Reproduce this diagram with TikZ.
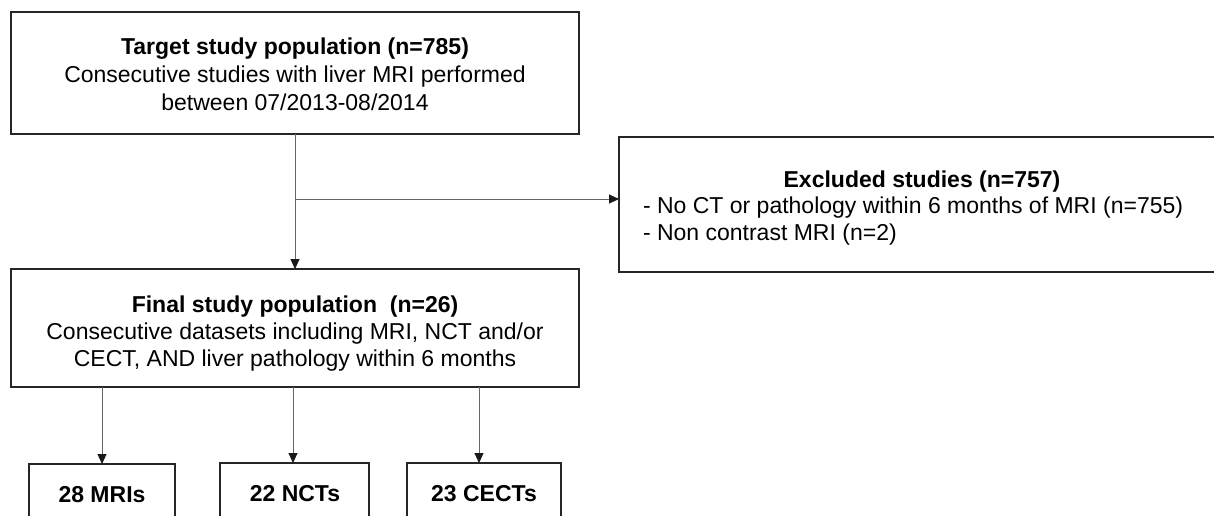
\documentclass[tikz,border=0pt]{standalone}
\usepackage{fontspec}
\setmainfont{Liberation Sans}
\usetikzlibrary{arrows.meta}
\begin{document}
\begin{tikzpicture}[x=1pt,y=-1pt,
  boxnode/.style={draw=black!85, line width=1.2pt, inner sep=0pt, outer sep=0pt, fill=none},
  txt/.style={inner sep=0pt, outer sep=0pt, font=\fontsize{23}{28}\selectfont, text=black},
  conn/.style={draw=black!60, line width=0.9pt, -{Triangle[length=10pt,width=9pt,fill=black!90,color=black!90]}},
  plain/.style={draw=black!60, line width=0.9pt}]
\clip (0,0) rectangle (1214,515);
\fill[white] (0,0) rectangle (1214,515);
% boxes
\node[boxnode, minimum width=568pt, minimum height=122pt] (top) at (295,73) {};
\node[boxnode, minimum width=568pt, minimum height=118pt] (final) at (295,328) {};
\node[boxnode, minimum width=606pt, minimum height=135pt] (excl) at (922,204.5) {};
\node[boxnode, minimum width=146pt, minimum height=76pt] (mri) at (102,502) {};
\node[boxnode, minimum width=149pt, minimum height=76pt] (nct) at (294.5,501) {};
\node[boxnode, minimum width=154pt, minimum height=76pt] (cect) at (484,501) {};
% texts
\node[txt, anchor=base] (t1) at (295,54) {\textbf{Target study population (n=785)}};
\node[txt, anchor=base] (t2) at (295,82) {Consecutive studies with liver MRI performed};
\node[txt, anchor=base] (t3) at (295,110) {between 07/2013-08/2014};
\node[txt, anchor=base] (f1) at (295,312) {\textbf{Final study population\ \ (n=26)}};
\node[txt, anchor=base] (f2) at (295,339) {Consecutive datasets including MRI, NCT and/or};
\node[txt, anchor=base] (f3) at (295,366) {CECT, AND liver pathology within 6 months};
\node[txt, anchor=base] (e1) at (922,187) {\textbf{Excluded studies (n=757)}};
\node[txt, anchor=base west] (e2) at (643,213) {- No CT or pathology within 6 months of MRI (n=755)};
\node[txt, anchor=base west] (e3) at (643,240) {- Non contrast MRI (n=2)};
\node[txt, anchor=base] (m1) at (102,502) {\textbf{28 MRIs}};
\node[txt, anchor=base] (n1) at (295,501) {\textbf{22 NCTs}};
\node[txt, anchor=base] (c1) at (484,501) {\textbf{23 CECTs}};
% connectors
\coordinate (branch) at (295,199);
\draw[conn] (top.south) -- (final.north);
\draw[conn] (branch) -- (branch -| excl.west);
\draw[conn] (final.south -| mri.north) -- (mri.north);
\draw[conn] ([xshift=-1.5pt]final.south -| nct.north) -- ([xshift=-1.5pt]nct.north);
\draw[conn] ([xshift=-5pt]final.south -| cect.north) -- ([xshift=-5pt]cect.north);
\end{tikzpicture}
\end{document}
